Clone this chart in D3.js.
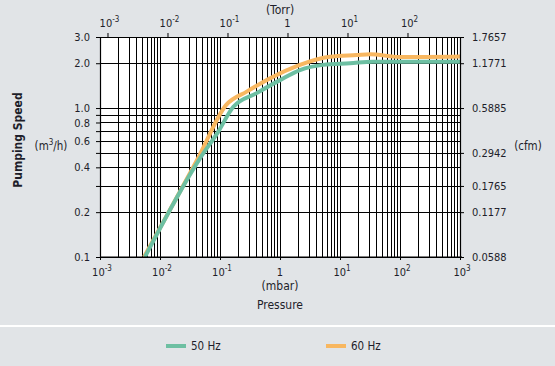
<!DOCTYPE html>
<html>
<head>
<meta charset="utf-8">
<script src="https://cdn.jsdelivr.net/npm/d3@7"></script>
<style>
  html, body { margin: 0; padding: 0; background: #e1e4e7; }
  svg { display: block; }
  text { font-family: "Liberation Sans Narrow", "Arial Narrow", "DejaVu Sans Condensed", sans-serif; fill: #1e1e2a; }
</style>
</head>
<body>
<svg id="chart" width="555" height="366"></svg>
<script>
// ---- data ----
const pressure50 = [0.0056, 0.0464, 0.0926, 0.167, 0.408, 1.0, 2.15, 5.2, 14.7, 35, 100, 1000];
const speed50    = [0.1,    0.46,   0.69,   1.02,  1.26,  1.54, 1.80, 1.95, 2.0, 2.05, 2.05, 2.05];
const pressure60 = [0.0054, 0.043, 0.127, 0.279, 1.0, 2.15, 6.8, 19, 31.6, 100, 1000];
const speed60    = [0.1,    0.46,  1.05,  1.29,  1.71, 1.95, 2.21, 2.27, 2.30, 2.20, 2.22];
const seriesNames = ["50 Hz", "60 Hz"];
const seriesColors = ["#6dbfa2", "#f8b760"];
const leftTickLabels = [3.0, 2.0, 1.0, 0.8, 0.6, 0.4, 0.2, 0.1];
const leftGridValues = [3, 2, 1, 0.9, 0.8, 0.7, 0.6, 0.5, 0.4, 0.3, 0.2, 0.1];
const cfmTickLabels = ["1.7657", "1.1771", "0.5885", "0.2942", "0.1765", "0.1177", "0.0588"];
const cfmTickAt     = [3, 2, 1, 0.5, 0.3, 0.2, 0.1]; // m3/h equivalents
const mbarDecades = [-3, -2, -1, 0, 1, 2, 3];
const torrDecades = [-3, -2, -1, 0, 1, 2];
const MBAR_PER_TORR = 1.33322;

// ---- layout ----
const X0 = 100, X1 = 460, Y0 = 37, Y1 = 257;
const FONT = '"Liberation Sans Narrow", "Arial Narrow", "DejaVu Sans Condensed", sans-serif';
const svg = d3.select("#chart");

const x = d3.scaleLog().domain([1e-3, 1e3]).range([X0, X1]);
const xTorr = d3.scaleLog().domain([1e-3 / MBAR_PER_TORR, 1e3 / MBAR_PER_TORR]).range([X0, X1]);
const y = d3.scaleLog().domain([0.1, 3]).range([Y1, Y0]);

// separator
svg.append("rect").attr("x", 0).attr("y", 325).attr("width", 555).attr("height", 2).attr("fill", "#ffffff");

// plot background
svg.append("rect").attr("x", X0).attr("y", Y0).attr("width", X1 - X0).attr("height", Y1 - Y0).attr("fill", "#ffffff");

// vertical grid (all minor values)
const minor = [];
for (let d = -3; d < 3; d++) for (let m = 1; m < 10; m++) minor.push(m * Math.pow(10, d));
minor.push(1e3);
const grid = svg.append("g").attr("stroke", "#000").attr("stroke-width", 1).attr("shape-rendering", "crispEdges");
grid.selectAll("line.v").data(minor).join("line")
  .attr("x1", d => Math.round(x(d)) + 0.5).attr("x2", d => Math.round(x(d)) + 0.5)
  .attr("y1", Y0).attr("y2", Y1);
grid.selectAll("line.h").data(leftGridValues).join("line")
  .attr("x1", X0).attr("x2", X1 + 1)
  .attr("y1", d => Math.round(y(d)) + 0.5).attr("y2", d => Math.round(y(d)) + 0.5);

// curves
svg.append("clipPath").attr("id", "clip").append("rect")
  .attr("x", X0).attr("y", Y0).attr("width", X1 - X0).attr("height", Y1 - Y0);
const line = d3.line().x(d => x(d[0])).y(d => y(d[1])).curve(d3.curveMonotoneX);
const series = [
  d3.zip(pressure50, speed50),
  d3.zip(pressure60, speed60)
];
svg.append("g").attr("clip-path", "url(#clip)")
  .selectAll("path").data([1, 0]).join("path")
  .attr("d", i => line(series[i]))
  .attr("fill", "none").attr("stroke", i => seriesColors[i])
  .attr("stroke-width", 4).attr("stroke-linejoin", "round").attr("stroke-linecap", "butt");

// left axis
const leftAxis = d3.axisLeft(y).tickValues(leftGridValues).tickSize(4).tickPadding(6)
  .tickFormat(d => leftTickLabels.includes(d) ? d3.format(".1f")(d) : "");
const gL = svg.append("g").attr("transform", `translate(${X0},0)`).call(leftAxis);
// right axis (cfm)
const cfmScale = d3.scaleLog().domain([0.1, 3]).range([Y1, Y0]);
const rightAxis = d3.axisRight(cfmScale).tickValues(cfmTickAt).tickSize(4).tickPadding(8)
  .tickFormat((d, i) => cfmTickLabels[i]);
const gR = svg.append("g").attr("transform", `translate(${X1},0)`).call(rightAxis);
// bottom axis (mbar)
const bottomAxis = d3.axisBottom(x).tickValues(mbarDecades.map(e => Math.pow(10, e))).tickSize(3).tickPadding(4).tickFormat("");
const gB = svg.append("g").attr("transform", `translate(0,${Y1})`).call(bottomAxis);
// top axis (Torr)
const topAxis = d3.axisTop(xTorr).tickValues(torrDecades.map(e => Math.pow(10, e))).tickSize(4).tickPadding(4).tickFormat("");
const gT = svg.append("g").attr("transform", `translate(0,${Y0})`).call(topAxis);

[gL, gR, gB, gT].forEach(g => {
  g.select(".domain").attr("stroke", "#000").attr("stroke-width", 1.2);
  g.selectAll(".tick line").attr("stroke", "#000");
  g.selectAll("text").attr("font-size", 11).attr("fill", "#1e1e2a").style("font-family", FONT);
});
gT.select(".domain").remove();
gB.select(".domain").attr("d", `M${X0},0H${X1 + 2}`);

// power-of-ten labels
function powLabel(g, xpos, ypos, e) {
  const t = g.append("text").attr("x", xpos).attr("y", ypos).attr("text-anchor", "middle").attr("font-size", 11);
  if (e === 0) { t.text("1"); return; }
  t.append("tspan").text("10");
  t.append("tspan").attr("font-size", 8).attr("dy", -5).text(String(e));
}
const labels = svg.append("g");
mbarDecades.forEach(e => powLabel(labels, x(Math.pow(10, e)) + (e === 0 ? 0 : 2), 276, e));
torrDecades.forEach(e => powLabel(labels, xTorr(Math.pow(10, e)) + (e === 0 ? 0 : 2), 27, e));

labels.append("text").attr("x", 280).attr("y", 14).attr("text-anchor", "middle").attr("font-size", 12).text("(Torr)");
labels.append("text").attr("x", 280).attr("y", 290).attr("text-anchor", "middle").attr("font-size", 12).text("(mbar)");
labels.append("text").attr("x", 280).attr("y", 309).attr("text-anchor", "middle").attr("font-size", 12).text("Pressure");
labels.append("text").attr("transform", "translate(22,140) rotate(-90)").attr("text-anchor", "middle")
  .attr("font-size", 12).attr("font-weight", "bold").text("Pumping Speed");
const mh = labels.append("text").attr("x", 51).attr("y", 150).attr("text-anchor", "middle").attr("font-size", 11.5);
mh.append("tspan").text("(m");
mh.append("tspan").attr("font-size", 8).attr("dy", -5).text("3");
mh.append("tspan").attr("dy", 5).text("/h)");
labels.append("text").attr("x", 528).attr("y", 150).attr("text-anchor", "middle").attr("font-size", 11.5).text("(cfm)");

// legend
const legendX = [166, 326];
const lg = svg.append("g").selectAll("g").data(seriesNames).join("g")
  .attr("transform", (d, i) => `translate(${legendX[i]},346)`);
lg.append("line").attr("x1", 0).attr("x2", 20).attr("y1", 0).attr("y2", 0)
  .attr("stroke", (d, i) => seriesColors[i]).attr("stroke-width", 4);
lg.append("text").attr("x", 25).attr("y", 4).attr("font-size", 11.5).text(d => d);
</script>
</body>
</html>
